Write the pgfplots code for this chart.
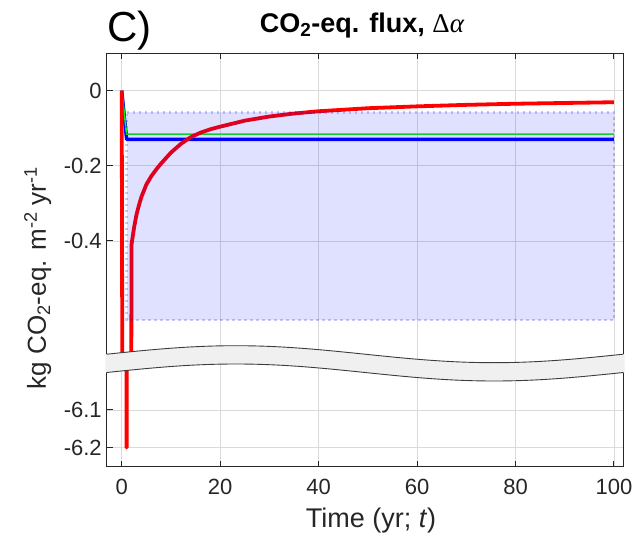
\documentclass[border=0pt]{standalone}
\usepackage{fontspec}
\setmainfont{Liberation Sans}
\newfontfamily\seriff{Liberation Serif}
\usepackage{pgfplots}
\pgfplotsset{compat=1.18}
\definecolor{axgray}{RGB}{38,38,38}
\definecolor{gridgray}{RGB}{218,218,218}
\definecolor{mgreen}{RGB}{20,235,20}
\definecolor{breakfill}{RGB}{240,240,240}
\definecolor{breakedge}{RGB}{60,60,60}

\pgfplotsset{
  brk/.style={
    scale only axis, width=516.6pt,
    xmin=-3.05, xmax=101.9,
    xtick={0,20,40,60,80,100},
    grid=major,
    major grid style={gridgray, line width=0.9pt},
    axis line style={draw=none},
    tick style={axgray, line width=1pt},
    major tick length=6pt,
    ytick pos=left,
    tick align=inside,
    ticklabel style={font=\fontsize{22}{22}\selectfont, text=axgray},
    yticklabel style={xshift=-1.5pt},
    xticklabel style={yshift=-9pt},
    /pgf/number format/assume math mode=true,
  }
}

\begin{document}
\begin{tikzpicture}
\useasboundingbox (0pt,0pt) rectangle (640pt,547pt);

% top panel
\begin{axis}[brk, at={(106.7pt,183.65pt)}, anchor=south west, height=310.05pt,
  ymin=-0.7254, ymax=0.0992,
  ytick={-0.4,-0.2,0}, yticklabels={-0.4,-0.2,0},
  xtick pos=right, xticklabels={}]
\addplot[blue, line width=3.5pt, line join=round] coordinates {(0,0) (1,-0.13) (100,-0.13)};
\addplot[mgreen, line width=1.6pt, line join=round] coordinates {(0,0) (1,-0.116) (100,-0.116)};
\addplot[red, line width=3.8pt, line join=round] coordinates {
(0,0) (1,-6.2) (2,-0.409) (2.5,-0.365) (3,-0.33) (3.5,-0.305) (4,-0.283) (5,-0.25) (6,-0.228) (7,-0.21) (8,-0.194) (10,-0.165) (12,-0.142) (14,-0.124) (16,-0.112) (18,-0.103) (20,-0.096) (25,-0.08) (30,-0.069) (35,-0.061) (40,-0.055) (50,-0.047) (60,-0.042) (70,-0.038) (80,-0.035) (90,-0.033) (100,-0.031)};
\addplot[draw=blue, draw opacity=0.22, fill=blue, fill opacity=0.12, line width=2.4pt, dash pattern=on 2.5pt off 3.5pt] coordinates {(1,-0.058) (100,-0.058) (100,-0.61) (1,-0.61)} -- cycle;
\end{axis}

% bottom panel
\begin{axis}[brk, at={(106.7pt,80.3pt)}, anchor=south west, height=103.35pt,
  ymin=-6.2504, ymax=-5.9763,
  ytick={-6.2,-6.1}, yticklabels={-6.2,-6.1},
  xtick pos=left, xticklabels={0,20,40,60,80,100}]
\addplot[red, line width=3.8pt, line join=round] coordinates {(0,0) (1,-6.2) (2,-0.409)};
\end{axis}

% frame
\draw[axgray, line width=1.3pt] (106.7pt,80.3pt) rectangle (623.3pt,493.7pt);

% break band
\fill[breakfill] (105.3pt,192.8pt) -- (106.7pt,192.8pt) sin (235.85pt,201.3pt) cos (365pt,192.8pt) sin (494.15pt,184.3pt) cos (623.3pt,192.8pt) -- (624.7pt,192.8pt)
  -- (624.7pt,174.5pt) -- (623.3pt,174.5pt) sin (494.15pt,166pt) cos (365pt,174.5pt) sin (235.85pt,183pt) cos (106.7pt,174.5pt) -- (105.3pt,174.5pt) -- cycle;
\draw[breakedge, line width=0.9pt] (106.7pt,192.8pt) sin (235.85pt,201.3pt) cos (365pt,192.8pt) sin (494.15pt,184.3pt) cos (623.3pt,192.8pt);
\draw[breakedge, line width=0.9pt] (623.3pt,174.5pt) sin (494.15pt,166pt) cos (365pt,174.5pt) sin (235.85pt,183pt) cos (106.7pt,174.5pt);

% texts
\node[anchor=base west, inner sep=0pt] at (107pt,505.3pt) {\fontsize{42}{42}\selectfont C)};
\node[anchor=base, inner sep=0pt] at (362pt,514.7pt) {\fontsize{27}{27}\selectfont\bfseries CO\textsubscript{2}-eq. flux, {\mdseries\seriff Δ\itshape α}};
\node[anchor=base, inner sep=0pt, text=axgray] at (371pt,20pt) {\fontsize{27}{27}\selectfont Time (yr; \textit{t})};
\node[anchor=base, inner sep=0pt, rotate=90, text=axgray] at (46pt,269pt) {\fontsize{26}{26}\selectfont kg CO\textsubscript{2}-eq. m\textsuperscript{-2} yr\textsuperscript{-1}};
\end{tikzpicture}
\end{document}
